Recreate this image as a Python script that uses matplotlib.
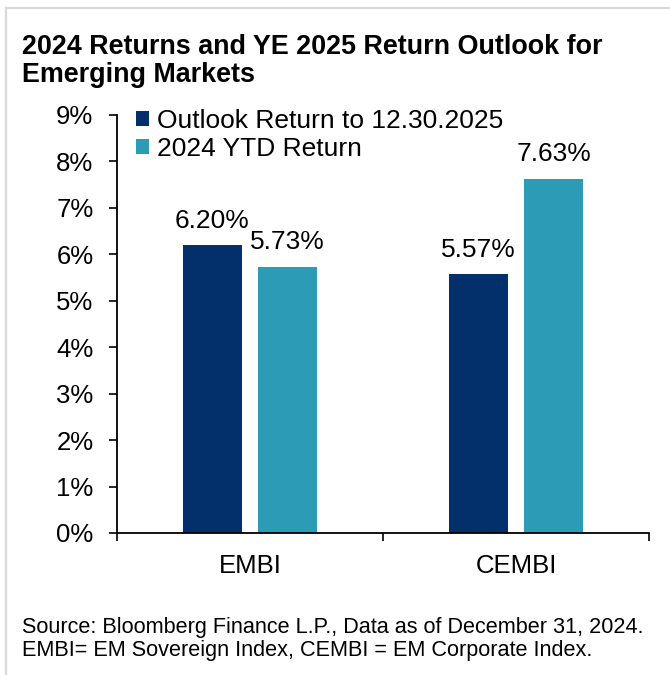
import matplotlib
matplotlib.use("Agg")
import matplotlib.pyplot as plt
from matplotlib.lines import Line2D
import numpy as np

# data
categories = ["EMBI", "CEMBI"]
outlook_return = [6.20, 5.57]
ytd_return = [5.73, 7.63]
series_names = ["Outlook Return to 12.30.2025", "2024 YTD Return"]
y_ticks = list(range(0, 10))

navy = "#03306B"
teal = "#2C9CB6"

plt.rcParams["font.family"] = ["Liberation Sans", "DejaVu Sans"]

W, H = 670, 675
fig = plt.figure(figsize=(W / 100, H / 100), dpi=100)
ax = fig.add_axes([117 / W, 1 - 533 / H, (649 - 117) / W, (533 - 115) / H])

x = np.arange(len(categories))
bw = 0.222
off = 0.142
b1 = ax.bar(x - off, outlook_return, bw, color=navy, label=series_names[0])
b2 = ax.bar(x + off, ytd_return, bw, color=teal, label=series_names[1])

# value labels above bars
for bars, vals in [(b1, outlook_return), (b2, ytd_return)]:
    for rect, v in zip(bars, vals):
        ax.annotate(f"{v:.2f}%", (rect.get_x() + rect.get_width() / 2, v),
                    xytext=(0, 9), textcoords="offset points",
                    ha="center", va="bottom", fontsize=19)

ax.set_xlim(-0.5, 1.5)
ax.set_ylim(0, 9)
ax.set_yticks(y_ticks)
ax.set_yticklabels([f"{t}%" for t in y_ticks])
ax.tick_params(axis="y", direction="out", length=6, width=1.2, pad=11, labelsize=18.5)

ax.set_xticks([-0.5, 0.5, 1.5])
ax.set_xticklabels(["", "", ""])
ax.set_xticks(x, minor=True)
ax.set_xticklabels(categories, minor=True)
ax.tick_params(axis="x", which="major", direction="out", length=6, width=1.2)
ax.tick_params(axis="x", which="minor", length=0, pad=15, labelsize=18.5)

for s in ["top", "right"]:
    ax.spines[s].set_visible(False)
for s in ["left", "bottom"]:
    ax.spines[s].set_linewidth(1.3)

fig.legend(handles=[b1, b2], loc="upper left",
           bbox_to_anchor=(136 / W, 1 - 109 / H), frameon=False,
           fontsize=19, handlelength=0.5, handleheight=0.5,
           handletextpad=0.3, labelspacing=0.15, borderpad=0, borderaxespad=0)

# title
fig.text(22 / W, 1 - 54 / H, "2024 Returns and YE 2025 Return Outlook for",
         fontsize=19.4, fontweight="bold", va="baseline")
fig.text(22 / W, 1 - 82 / H, "Emerging Markets",
         fontsize=19.4, fontweight="bold", va="baseline")

# footer
fig.text(22 / W, 1 - 633 / H,
         "Source: Bloomberg Finance L.P., Data as of December 31, 2024.",
         fontsize=15.6, va="baseline")
fig.text(22 / W, 1 - 656 / H,
         "EMBI= EM Sovereign Index, CEMBI = EM Corporate Index.",
         fontsize=15.6, va="baseline")

# frame lines
fig.add_artist(Line2D([6 / W, 1], [1 - 8 / H, 1 - 8 / H], color="#D9D9D9", lw=1.6))
fig.add_artist(Line2D([6 / W, 6 / W], [0, 1 - 8 / H], color="#D9D9D9", lw=1.6))

fig.savefig("out.png", dpi=100)
